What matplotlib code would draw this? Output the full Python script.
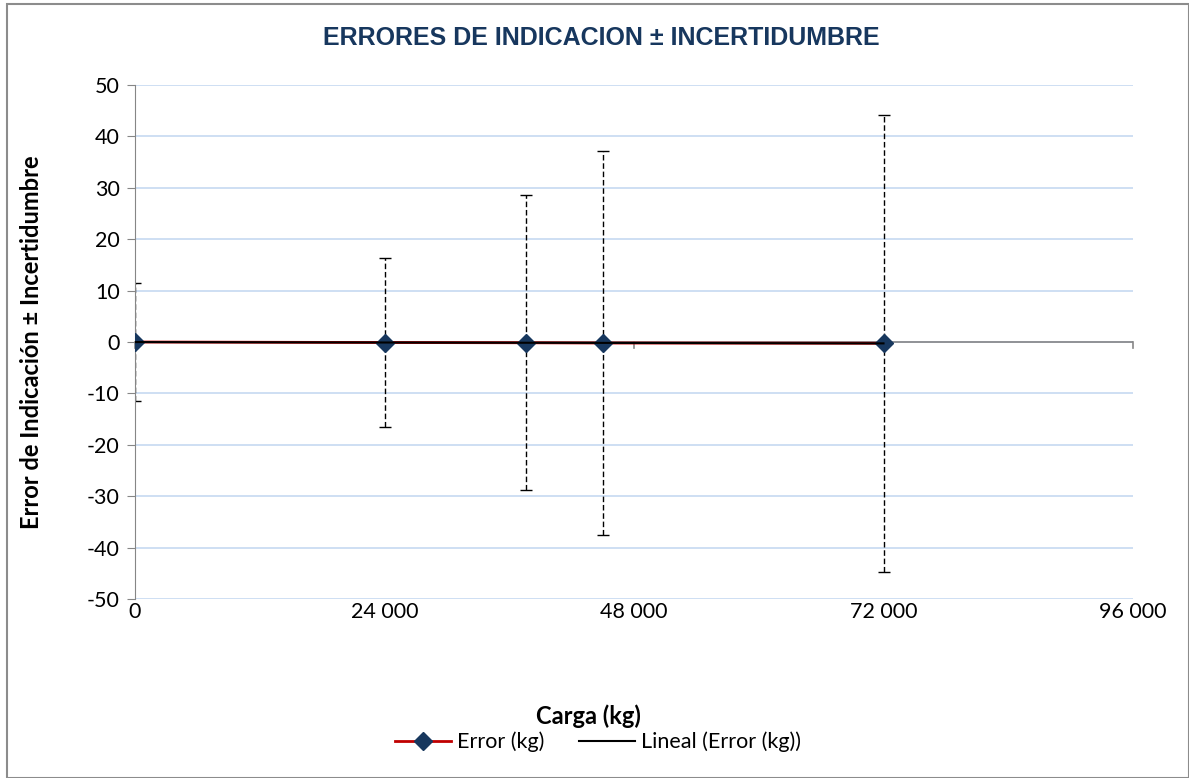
import matplotlib.pyplot as plt
import numpy as np
from matplotlib.patches import Rectangle

# data
carga = [0, 24000, 37600, 45000, 72000]
error = [0.0, -0.1, -0.15, -0.2, -0.25]
incert = [11.5, 16.4, 28.7, 37.3, 44.5]
x_ticks = [0, 24000, 48000, 72000, 96000]
y_ticks = list(range(-50, 51, 10))

plt.rcParams["font.family"] = ["Lato", "DejaVu Sans"]
plt.rcParams["axes.unicode_minus"] = False

fig = plt.figure(figsize=(11.89, 7.78), dpi=100)
ax = fig.add_axes([135 / 1189, 1 - 599 / 778, 998 / 1189, 514 / 778])

# chart border
fig.patches.append(Rectangle((7 / 1189, 0), 1 - 7 / 1189, 1 - 4 / 778, transform=fig.transFigure,
                             fill=False, edgecolor="#8c8c8c", linewidth=1.5))

ax.set_xlim(0, 96000)
ax.set_ylim(-50, 50)
ax.set_yticks(y_ticks)
ax.set_xticks(x_ticks)
ax.set_xticklabels([f"{v:,}".replace(",", " ") for v in x_ticks])
ax.grid(axis="y", color="#c6d9f1", linewidth=1.2)
ax.set_axisbelow(True)

for s in ["top", "right", "bottom"]:
    ax.spines[s].set_visible(False)
ax.spines["left"].set_color("#868686")
ax.spines["left"].set_position(("data", 0))

# x axis line at y = 0
ax.axhline(0, color="#868686", linewidth=1.2, zorder=1)
ax.tick_params(axis="x", length=0, labelsize=15.5, pad=2)
ax.tick_params(axis="y", color="#868686", length=6, labelsize=15.5, pad=5)
for xt in x_ticks:
    ax.plot([xt, xt], [0, -1.2], color="#868686", linewidth=1.2, clip_on=False, zorder=1)

# error bars
eb = ax.errorbar(carga, error, yerr=incert, fmt="none", ecolor="black", elinewidth=1,
                 capsize=4, capthick=1, zorder=2)
for lc in eb[2]:
    lc.set_linestyle((0, (4, 2)))

coef = np.polyfit(carga, error, 1)
xx = np.array([carga[0], carga[-1]])
ax.plot(carga, error, color="#c00000", linewidth=2, marker="D", markersize=9,
        markerfacecolor="#17375e", markeredgecolor="#17375e", zorder=3, label="Error (kg)")
ax.plot(xx, np.polyval(coef, xx), color="black", linewidth=1.5, zorder=4,
        label="Lineal (Error (kg))")

fig.text(0.506, 1 - 38 / 778, "ERRORES DE INDICACION ± INCERTIDUMBRE", ha="center", va="center",
         fontsize=18, fontweight="bold", color="#17375e", family=["Liberation Sans", "DejaVu Sans"])
fig.text(32 / 1189, 1 - 342 / 778, "Error de Indicación ± Incertidumbre", rotation=90,
         ha="center", va="center", fontsize=17, fontweight="bold")
fig.text(588 / 1189, 1 - 716 / 778, "Carga (kg)", ha="center", va="center",
         fontsize=17, fontweight="bold")

fig.legend(loc="center", bbox_to_anchor=(598 / 1189, 1 - 742 / 778), ncol=2, frameon=False,
           fontsize=15.5, handlelength=2.6, columnspacing=1.6, handletextpad=0.3)

fig.savefig("out.png", dpi=100)
